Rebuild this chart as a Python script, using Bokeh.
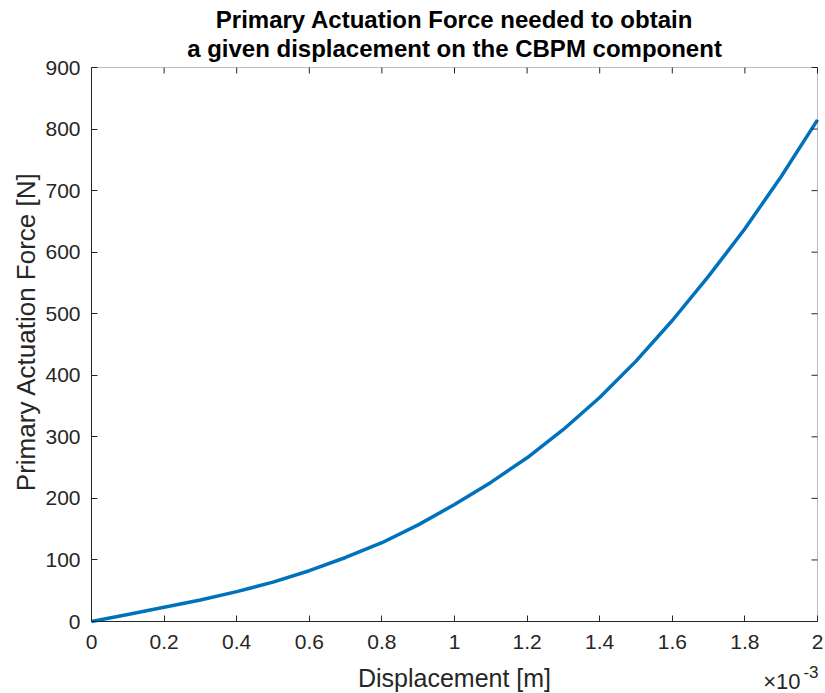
from bokeh.plotting import figure
from bokeh.models import FixedTicker, Label, Range1d, BoxAnnotation
from bokeh.embed import file_html
from bokeh.resources import INLINE
import math

# Data (displacement in units of 1e-3 m, force in N)
displacement_e3 = [0.0, 0.1, 0.2, 0.3, 0.4, 0.5, 0.6, 0.7, 0.8, 0.9, 1.0,
                   1.1, 1.2, 1.3, 1.4, 1.5, 1.6, 1.7, 1.8, 1.9, 2.0]
force = [0, 11.5, 23, 35, 48.5, 64, 82.5, 104, 128, 157, 190,
         226, 266, 312, 364, 423, 489, 561, 638, 723, 815]

x_ticks = [0, 0.2, 0.4, 0.6, 0.8, 1, 1.2, 1.4, 1.6, 1.8, 2]
x_tick_labels = ["0", "0.2", "0.4", "0.6", "0.8", "1", "1.2", "1.4", "1.6", "1.8", "2"]
y_ticks = [0, 100, 200, 300, 400, 500, 600, 700, 800, 900]
x_lim = (0, 2)
y_lim = (0, 900)
title_lines = ["Primary Actuation Force needed to obtain",
               "a given displacement on the CBPM component"]
x_label = "Displacement [m]"
y_label = "Primary Actuation Force [N]"

TXT = "#262626"
FONT = "Liberation Sans"

# layout (canvas pixels; the plotting frame fills the whole canvas)
W, H = 825, 693
X0_PX, X1_PX = 91, 817      # canvas x of x_lim
Y1_PX, Y0_PX = 67, 621      # canvas y (from top) of y_lim[1], y_lim[0]
x_per_px = (x_lim[1] - x_lim[0]) / (X1_PX - X0_PX)
y_per_px = (y_lim[1] - y_lim[0]) / (Y0_PX - Y1_PX)
x_start = x_lim[0] - X0_PX * x_per_px
x_end = x_lim[1] + (W - X1_PX) * x_per_px
y_start = y_lim[0] - (H - Y0_PX) * y_per_px
y_end = y_lim[1] + Y1_PX * y_per_px

p = figure(width=W, height=H, output_backend="svg", toolbar_location=None,
           x_range=Range1d(x_start, x_end), y_range=Range1d(y_start, y_end),
           min_border_left=0, min_border_right=0, min_border_top=0, min_border_bottom=0)

p.grid.visible = False
p.outline_line_color = None
p.background_fill_color = "white"
p.border_fill_color = "white"

# axes box
p.add_layout(BoxAnnotation(left=x_lim[0], right=x_lim[1], bottom=y_lim[0], top=y_lim[1],
                           fill_alpha=0, line_color=TXT, line_width=1))

p.line(displacement_e3, force, line_color="#0072BD", line_width=3.5, line_join="round")

for ax in (p.xaxis[0], p.yaxis[0]):
    ax.axis_line_color = TXT
    ax.major_tick_line_color = TXT
    ax.major_tick_in = 6
    ax.major_tick_out = 0
    ax.minor_tick_line_color = None
    ax.major_label_text_font = FONT
    ax.major_label_text_font_size = "21px"
    ax.major_label_text_color = TXT
    ax.axis_label_text_font = FONT
    ax.axis_label_text_font_size = "25px"
    ax.axis_label_text_font_style = "normal"
    ax.axis_label_text_color = TXT

xa = p.xaxis[0]
xa.ticker = FixedTicker(ticks=x_ticks)
xa.major_label_overrides = {t: l for t, l in zip(x_ticks, x_tick_labels)}
xa.fixed_location = y_lim[0]
xa.bounds = x_lim
xa.major_label_standoff = 13
xa.axis_label = x_label
xa.axis_label_standoff = 12

ya = p.yaxis[0]
ya.ticker = FixedTicker(ticks=y_ticks)
ya.fixed_location = x_lim[0]
ya.bounds = y_lim
ya.major_label_standoff = 11

# y axis title (rotated), placed like the reference
p.add_layout(Label(x=x_lim[0], y=H - 331, y_units="screen", x_offset=-66, text=y_label,
                   angle=math.pi / 2, text_align="center", text_baseline="middle",
                   text_font=FONT, text_font_size="26px", text_color=TXT))

# mirrored ticks on top and right edges (screen-length rays)
p.ray(x=x_ticks, y=[y_lim[1]] * len(x_ticks), length=6, length_units="screen",
      angle=-math.pi / 2, line_color=TXT, line_width=1)
p.ray(x=[x_lim[1]] * len(y_ticks), y=y_ticks, length=6, length_units="screen",
      angle=math.pi, line_color=TXT, line_width=1)

# title (two bold lines centred over the axes box)
x_mid = (x_lim[0] + x_lim[1]) / 2
for line_txt, y_from_bottom in zip(title_lines, (H - 19, H - 48)):
    p.add_layout(Label(x=x_mid, y=y_from_bottom, y_units="screen", text=line_txt,
                       text_align="center", text_baseline="middle", text_font=FONT,
                       text_font_size="24px", text_font_style="bold", text_color="#000000"))

# exponent label  x10^-3
p.add_layout(Label(x=x_lim[1], y=12, y_units="screen", x_offset=-17, text="\u00d710",
                   text_align="right", text_baseline="middle", text_font=FONT,
                   text_font_size="22px", text_color=TXT))
p.add_layout(Label(x=x_lim[1], y=22, y_units="screen", x_offset=1, text="-3",
                   text_align="right", text_baseline="middle", text_font=FONT,
                   text_font_size="17px", text_color=TXT))

open("out.html", "w").write(file_html(p, INLINE))
